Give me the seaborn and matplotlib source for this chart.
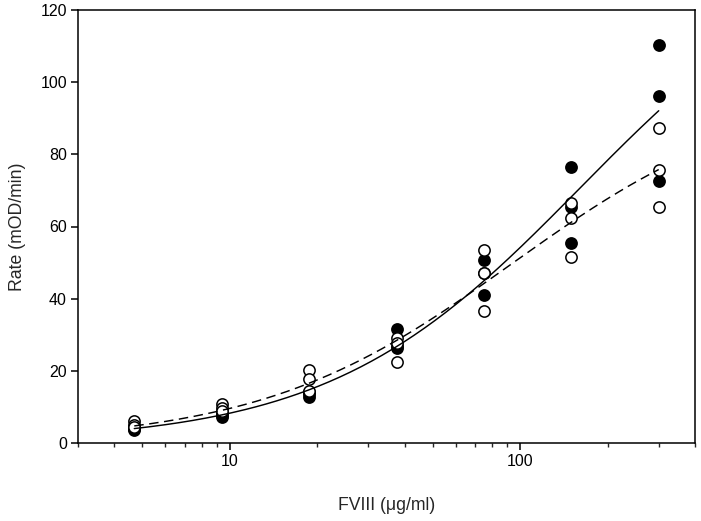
import numpy as np
import pandas as pd
import matplotlib
matplotlib.use("Agg")
import matplotlib.pyplot as plt
import seaborn as sns
from matplotlib.ticker import FixedLocator, NullFormatter, FixedFormatter

# ---- data ----
conc = [4.6875, 9.375, 18.75, 37.5, 75, 150, 300]
# filled circles (three replicates per concentration)
filled_rep1 = [3.5, 7.2, 12.7, 31.7, 50.7, 76.4, 110.2]
filled_rep2 = [4.0, 7.8, 13.5, 26.2, 41.0, 65.5, 96.2]
filled_rep3 = [4.3, 8.2, 14.0, 27.0, 47.0, 55.5, 72.6]
# open circles
open_rep1 = [6.2, 10.8, 20.2, 29.0, 53.5, 66.4, 87.4]
open_rep2 = [5.0, 9.6, 17.8, 27.8, 47.0, 62.4, 75.7]
open_rep3 = [4.4, 8.8, 14.5, 22.5, 36.7, 51.5, 65.5]

x_ticks = [10, 100]
y_ticks = [0, 20, 40, 60, 80, 100, 120]
x_label = "FVIII (\u03bcg/ml)"
y_label = "Rate (mOD/min)"

def long_df(reps):
    xs, ys = [], []
    for r in reps:
        xs += conc
        ys += r
    return pd.DataFrame({"x": xs, "y": ys})

df_filled = long_df([filled_rep1, filled_rep2, filled_rep3])
df_open = long_df([open_rep1, open_rep2, open_rep3])

def mm_fit(df):
    x = df["x"].to_numpy(float)
    y = df["y"].to_numpy(float)
    best = None
    for K in np.logspace(0, 4, 6000):
        f = x / (K + x)
        V = (f @ y) / (f @ f)
        sse = np.sum((y - V * f) ** 2)
        if best is None or sse < best[0]:
            best = (sse, V, K)
    return best[1], best[2]

xs = np.logspace(np.log10(conc[0]), np.log10(conc[-1]), 200)
Vf, Kf = mm_fit(df_filled)
Vo, Ko = mm_fit(df_open)
fit_filled = pd.DataFrame({"x": xs, "y": Vf * xs / (Kf + xs)})
fit_open = pd.DataFrame({"x": xs, "y": Vo * xs / (Ko + xs)})

sns.set_theme(style="ticks")
plt.rcParams["font.family"] = ["Liberation Sans", "DejaVu Sans"]

fig = plt.figure(figsize=(7.01, 5.21), dpi=100)
ax = fig.add_axes([78 / 701, 1 - 443 / 521, 617 / 701, 433 / 521])

sns.scatterplot(data=df_filled, x="x", y="y", ax=ax, color="black",
                edgecolor="black", linewidth=1.1, s=66, zorder=3, legend=False)
sns.scatterplot(data=df_open, x="x", y="y", ax=ax, color="white",
                edgecolor="black", linewidth=1.1, s=66, zorder=4, legend=False)
sns.lineplot(data=fit_filled, x="x", y="y", ax=ax, color="black",
             linewidth=1.05, zorder=5)
sns.lineplot(data=fit_open, x="x", y="y", ax=ax, color="black",
             linewidth=1.05, dashes=False, zorder=5).lines[-1].set_dashes([6.5, 3.8])

ax.set_xscale("log")
ax.set_xlim(3, 400)
ax.set_ylim(0, 120)
ax.xaxis.set_major_locator(FixedLocator(x_ticks))
ax.xaxis.set_major_formatter(FixedFormatter([str(t) for t in x_ticks]))
ax.xaxis.set_minor_locator(FixedLocator([3, 4, 5, 6, 7, 8, 9, 20, 30, 40, 50, 60, 70, 80, 90, 200, 300, 400]))
ax.xaxis.set_minor_formatter(NullFormatter())
ax.set_yticks(y_ticks)

for s in ax.spines.values():
    s.set_visible(True)
    s.set_linewidth(1.1)
    s.set_color("black")

ax.tick_params(axis="both", which="major", direction="out", length=5, width=1.1,
               labelsize=11.5, colors="black", pad=3)
ax.tick_params(axis="x", which="minor", direction="out", length=3, width=1.0)
ax.tick_params(top=False, right=False, which="both")

ax.set_xlabel(x_label, fontsize=12.7, labelpad=20)
ax.set_ylabel(y_label, fontsize=12.7, labelpad=10)
ax.grid(False)

fig.savefig("out.png", dpi=100)
